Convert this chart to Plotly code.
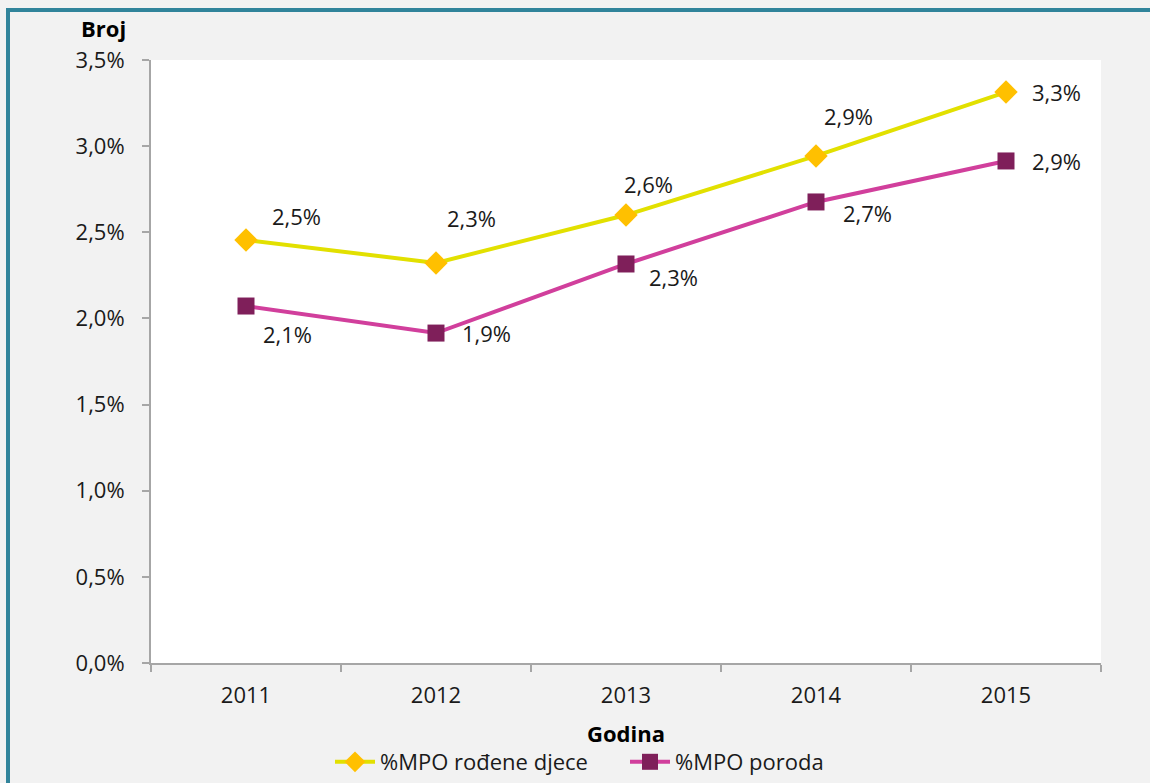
import plotly.graph_objects as go

years = ["2011", "2012", "2013", "2014", "2015"]
mpo_djece = [2.455, 2.322, 2.600, 2.943, 3.314]
mpo_poroda = [2.072, 1.915, 2.316, 2.676, 2.914]
y_ticks = [0, 0.5, 1.0, 1.5, 2.0, 2.5, 3.0, 3.5]
y_tick_text = ["0,0%", "0,5%", "1,0%", "1,5%", "2,0%", "2,5%", "3,0%", "3,5%"]

# label offsets (px) relative to each marker
off_djece = [(50, 24), (35, 45), (22, 31), (32, 40), (50, 0)]
off_poroda = [(41, -28), (50, 0), (47, -13), (51, -11), (50, 0)]

FONT = "Open Sans"
fs = 22

def fmt(v):
    return f"{v:.1f}".replace(".", ",") + "%"

fig = go.Figure()
fig.add_trace(go.Scatter(
    x=years, y=mpo_djece, name="%MPO rođene djece", mode="lines+markers",
    line=dict(color="#E2E000", width=4),
    marker=dict(symbol="diamond", size=18, color="#FFC000"),
))
fig.add_trace(go.Scatter(
    x=years, y=mpo_poroda, name="%MPO poroda", mode="lines+markers",
    line=dict(color="#D13F9C", width=4),
    marker=dict(symbol="square", size=17, color="#7F1F5A"),
))

annotations = []
for vals, offs in ((mpo_djece, off_djece), (mpo_poroda, off_poroda)):
    for i, (v, (dx, dy)) in enumerate(zip(vals, offs)):
        annotations.append(dict(x=i, y=v, xref="x", yref="y", text=fmt(v),
                                xanchor="center", yanchor="middle",
                                showarrow=False, xshift=dx, yshift=dy,
                                font=dict(family=FONT, size=fs, color="#1a1a1a")))

W, H = 1150, 783
L, R, T, B = 151, 1150 - 1101, 60, 783 - 663
pw, ph = W - L - R, H - T - B

def px(x):
    return (x - L) / pw

def py(y):
    return 1 - (y - T) / ph

annotations.append(dict(x=px(103), y=py(28), xref="paper", yref="paper", text="<b>Broj</b>",
                        xanchor="center", yanchor="middle",
                        showarrow=False, font=dict(family=FONT, size=fs, color="#000")))
annotations.append(dict(x=px(626), y=py(733), xref="paper", yref="paper", text="<b>Godina</b>",
                        xanchor="center", yanchor="middle",
                        showarrow=False, font=dict(family=FONT, size=fs, color="#000")))

shapes = [dict(type="rect", xref="paper", yref="paper",
               x0=px(8), x1=px(1300), y0=py(900), y1=py(10),
               line=dict(color="#31849B", width=4), fillcolor="rgba(0,0,0,0)", layer="below")]

fig.update_layout(
    width=W, height=H,
    margin=dict(l=L, r=R, t=T, b=B, autoexpand=False),
    paper_bgcolor="#F2F2F2", plot_bgcolor="#FFFFFF",
    font=dict(family=FONT, size=fs, color="#1a1a1a"),
    showlegend=True,
    legend=dict(orientation="h", x=px(330), xanchor="left", y=py(762), yanchor="middle",
                font=dict(family=FONT, size=fs, color="#1a1a1a"), bgcolor="rgba(0,0,0,0)",
                itemwidth=40, tracegroupgap=0, entrywidth=240, entrywidthmode="pixels"),
    annotations=annotations,
    shapes=shapes,
    xaxis=dict(type="category", showgrid=False, showline=True, linecolor="#A6A6A6", linewidth=2,
               ticks="outside", tickson="boundaries", ticklen=7, tickcolor="#A6A6A6", tickwidth=2,
               ticklabelstandoff=12, range=[-0.5, 4.5], zeroline=False),
    yaxis=dict(range=[0, 3.5], tickvals=y_ticks, ticktext=y_tick_text,
               showgrid=False, showline=True, linecolor="#A6A6A6", linewidth=2,
               ticks="outside", ticklen=7, tickcolor="#A6A6A6", tickwidth=2,
               ticklabelstandoff=13, zeroline=False),
)

fig.write_html("out.html", config={"displayModeBar": False},
               post_script="document.body.style.margin='0';document.body.style.overflow='hidden';")
